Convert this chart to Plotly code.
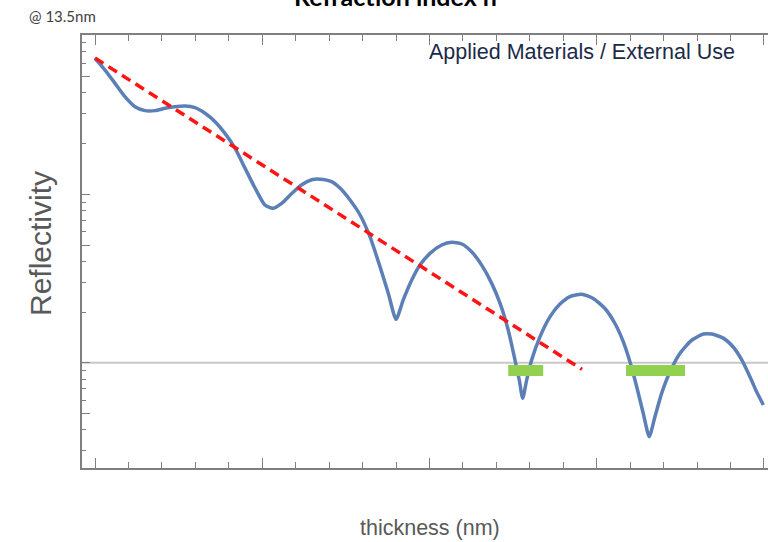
import plotly.graph_objects as go

# ---- data ----
thickness_nm = [0.00, 0.60, 1.20, 1.79, 2.39, 2.99, 3.59, 4.19, 4.78, 5.38,
                5.98, 6.58, 7.18, 7.77, 8.37, 8.97, 9.57, 10.16, 10.63, 11.16,
                11.76, 12.36, 12.96, 13.45, 14.15, 14.65, 15.25, 15.85, 16.44, 17.04,
                17.54, 18.00, 18.43, 18.94, 19.43, 20.03, 20.73, 21.33, 21.93, 22.52,
                23.12, 23.72, 24.22, 24.71, 25.11, 25.37, 25.57, 25.81, 26.11, 26.61,
                27.21, 27.80, 28.40, 29.10, 29.79, 30.49, 31.09, 31.59, 31.99, 32.39,
                32.78, 33.14, 33.48, 33.88, 34.38, 34.98, 35.68, 36.37, 36.87, 37.57,
                38.16, 38.67, 39.16, 39.56, 39.96]
reflectivity = [64.2, 54.7, 45.6, 38.0, 33.1, 31.4, 31.4, 32.4, 33.1, 33.4,
                32.7, 30.3, 27.0, 23.0, 18.8, 14.3, 10.9, 8.64, 8.26, 8.84,
                10.1, 11.4, 12.2, 12.3, 11.9, 10.9, 9.25, 7.54, 5.60, 3.72,
                2.58, 1.81, 2.36, 3.10, 3.80, 4.46, 5.00, 5.19, 5.07, 4.56,
                3.80, 2.96, 2.25, 1.56, 1.04, 0.789, 0.615, 0.789, 1.04, 1.43,
                1.88, 2.23, 2.47, 2.55, 2.41, 2.10, 1.71, 1.33, 1.01, 0.720,
                0.501, 0.364, 0.478, 0.658, 0.884, 1.14, 1.36, 1.48, 1.48, 1.40,
                1.24, 1.04, 0.826, 0.672, 0.561]

trend_x = [0.0, 29.12]
trend_y = [64.5, 0.913]

window1_x = [24.71, 26.80]
window2_x = [31.75, 35.28]
window_level = 0.90

reference_level = 1.0

x_range = [-0.777, 40.24]
y_range_log = [-0.625, 1.946]

x_major = [0, 10, 20, 30, 40]
x_minor = [2, 4, 6, 8, 12, 14, 16, 18, 22, 24, 26, 28, 32, 34, 36, 38]
y_major = [0.5, 1, 5, 10, 50]
y_minor = [0.3, 0.4, 0.6, 0.7, 0.8, 0.9, 2, 3, 4, 6, 7, 8, 9,
           20, 30, 40, 60, 70, 80]

# ---- figure ----
AX = "#7f7f7f"
fig = go.Figure()

fig.add_trace(go.Scatter(x=x_range, y=[reference_level, reference_level],
                         mode="lines", line=dict(color="#c8c8c8", width=2),
                         hoverinfo="skip", showlegend=False))
fig.add_trace(go.Scatter(x=thickness_nm, y=reflectivity, mode="lines",
                         line=dict(color="#5b7fb6", width=3.5, shape="spline", smoothing=0.6),
                         showlegend=False))
fig.add_trace(go.Scatter(x=trend_x, y=trend_y, mode="lines",
                         line=dict(color="#ff1414", width=3.5, dash="10px,6px"),
                         showlegend=False))
for wx in (window1_x, window2_x):
    fig.add_trace(go.Scatter(x=wx, y=[window_level, window_level], mode="lines",
                             line=dict(color="#92d050", width=11),
                             showlegend=False))

fig.update_layout(
    width=768, height=542,
    margin=dict(l=82, r=0, t=35, b=74),
    paper_bgcolor="white", plot_bgcolor="white",
    showlegend=False,
    xaxis=dict(range=x_range, showgrid=False, zeroline=False,
               showline=True, linecolor=AX, linewidth=1.5, mirror="ticks",
               ticks="inside", tickmode="array", tickvals=x_major,
               ticklen=10, tickwidth=1.2, tickcolor=AX, showticklabels=False,
               minor=dict(tickmode="array", tickvals=x_minor, ticks="inside",
                          ticklen=6, tickwidth=1.2, tickcolor=AX, showgrid=False)),
    yaxis=dict(type="log", range=y_range_log, showgrid=False, zeroline=False,
               showline=True, linecolor=AX, linewidth=1.5, mirror=False,
               ticks="inside", tickmode="array", tickvals=y_major,
               ticklen=8, tickwidth=1.2, tickcolor=AX, showticklabels=False,
               minor=dict(tickmode="array", tickvals=y_minor, ticks="inside",
                          ticklen=4, tickwidth=1.2, tickcolor=AX, showgrid=False)),
)

def px_x(p):
    return (p - 82) / 686.0

def px_y(p):
    return (468 - p) / 433.0

fig.add_annotation(text="<b>Refraction index n</b>", xref="paper", yref="paper",
                   x=px_x(395), y=px_y(-4), xanchor="center", yanchor="middle",
                   showarrow=False, font=dict(family="Lato", size=25, color="#000000"))
fig.add_annotation(text="@ 13.5nm", xref="paper", yref="paper",
                   x=px_x(27), y=px_y(16), xanchor="left", yanchor="middle",
                   showarrow=False, font=dict(family="Lato", size=15, color="#3f3f3f"))
fig.add_annotation(text="Applied Materials / External Use", xref="paper", yref="paper",
                   x=px_x(582), y=px_y(52), xanchor="center", yanchor="middle",
                   showarrow=False, font=dict(family="Liberation Sans", size=21.5, color="#1b2a48"))
fig.add_annotation(text="Reflectivity", xref="paper", yref="paper", textangle=-90,
                   x=px_x(41), y=px_y(244), xanchor="center", yanchor="middle",
                   showarrow=False, font=dict(family="Liberation Sans", size=30, color="#595959"))
fig.add_annotation(text="thickness (nm)", xref="paper", yref="paper",
                   x=px_x(430), y=px_y(528), xanchor="center", yanchor="middle",
                   showarrow=False, font=dict(family="Liberation Sans", size=21.5, color="#595959"))

fig.write_html("out.html", config={"displayModeBar": False},
               post_script="document.body.style.margin='0';")
